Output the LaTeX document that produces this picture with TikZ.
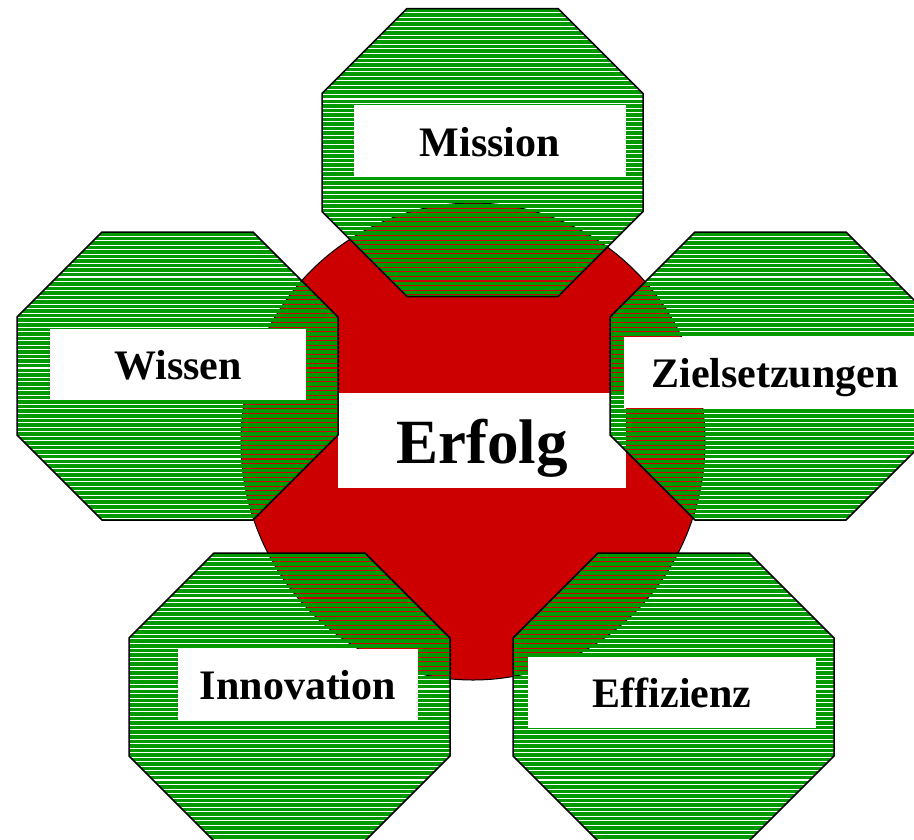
\documentclass[tikz,border=0pt]{standalone}
\usepackage{fontspec}
\setmainfont{Liberation Serif}
\usetikzlibrary{shapes.geometric}

\definecolor{kreisrot}{RGB}{204,0,0}
\definecolor{streifengruen}{RGB}{0,153,0}

\begin{document}
\begin{tikzpicture}[x=1pt,y=-1pt]
	\tikzstyle{schild}=[fill=white, inner sep=0pt, minimum height=71pt, text height=30pt, text depth=0pt, font=\bfseries\fontsize{42}{50}\selectfont]
	\tikzstyle{streifen}=[fill=streifengruen]
	% octagon with horizontal green stripes, gaps stay transparent
	\tikzset{achteck/.pic={
		\begin{scope}
			\clip (-75.5,-144) -- (75.5,-144) -- (160.5,-59) -- (160.5,59) -- (75.5,144) -- (-75.5,144) -- (-160.5,59) -- (-160.5,-59) -- cycle;
			\foreach \k in {0,...,63}
				\fill[streifen] (-162,-144+\k*4.55) rectangle ++(324,3.5);
		\end{scope}
		\draw[line width=1.5pt, line join=miter] (-75.5,-144) -- (75.5,-144) -- (160.5,-59) -- (160.5,59) -- (75.5,144) -- (-75.5,144) -- (-160.5,59) -- (-160.5,-59) -- cycle;
	}}

	\clip (0,0) rectangle (914,839);

	\node[ellipse, fill=kreisrot, draw=black, line width=1pt, minimum width=464pt, minimum height=477pt, inner sep=0pt] (kreis) at (473,441.5) {};
	\node[schild, minimum width=288pt, minimum height=95pt, text height=45pt, font=\bfseries\fontsize{63}{75}\selectfont] (erfolg) at (482,440.5) {Erfolg};

	\pic (pmission) at (482.5,152.5) {achteck};
	\pic (pwissen) at (177.5,376) {achteck};
	\pic (pziele) at (770.5,376) {achteck};
	\pic (pinnovation) at (289.5,697) {achteck};
	\pic (peffizienz) at (673.5,697) {achteck};

	\node[schild, minimum width=272pt, minimum height=72pt] (mission) at (490,141) {Mission};
	\node[schild, minimum width=256pt] (wissen) at (178,364.5) {Wissen};
	\node[schild, minimum width=302pt] (ziele) at (775,372.5) {Zielsetzungen};
	\node[schild, minimum width=240pt] (innovation) at (298,684.5) {Innovation};
	\node[schild, minimum width=288pt] (effizienz) at (672,692.5) {Effizienz};
\end{tikzpicture}
\end{document}
